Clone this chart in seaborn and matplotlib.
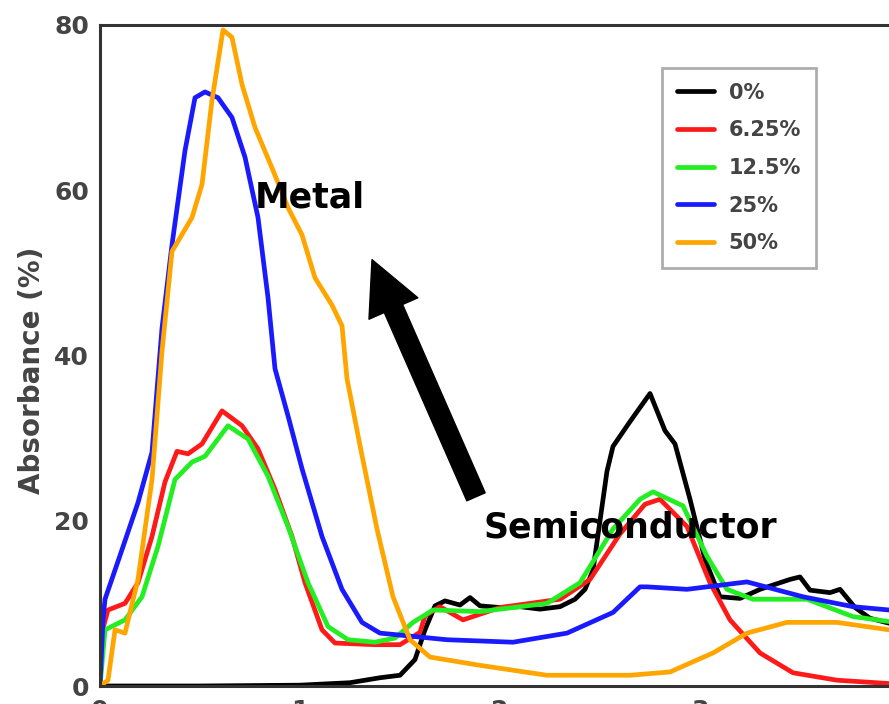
import numpy as np
import pandas as pd
import matplotlib
matplotlib.use("Agg")
import matplotlib.pyplot as plt
import seaborn as sns
from matplotlib.lines import Line2D

labels = ["0%", "6.25%", "12.5%", "25%", "50%"]
colors = ["#000000", "#ff1a1a", "#22ee22", "#1a1aff", "#ffa500"]

x_black = [0, 0.5, 1.0, 1.25, 1.4, 1.5, 1.575, 1.625, 1.675, 1.725, 1.8, 1.85, 1.9, 2.0, 2.1, 2.2, 2.3,
           2.375, 2.425, 2.465, 2.5, 2.535, 2.565, 2.65, 2.75, 2.825, 2.875, 2.95, 3.025, 3.1, 3.2,
           3.3, 3.45, 3.5, 3.55, 3.65, 3.7, 3.775, 3.85, 3.945]
y_black = [0, 0, 0.1, 0.4, 1.0, 1.3, 3.2, 6.8, 9.7, 10.3, 9.8, 10.7, 9.7, 9.5, 9.6, 9.3, 9.6,
           10.5, 11.7, 14, 20, 26, 29, 32, 35.4, 30.9, 29.3, 22.6, 15.3, 10.8, 10.6,
           11.7, 12.9, 13.2, 11.6, 11.3, 11.7, 9.5, 8.2, 7.6]

x_red = [0, 0.015, 0.04, 0.125, 0.19, 0.26, 0.325, 0.385, 0.44, 0.51, 0.61, 0.71, 0.79, 0.875,
         0.96, 1.025, 1.11, 1.175, 1.375, 1.5, 1.6, 1.625, 1.7, 1.815, 2.0, 2.3, 2.45, 2.6, 2.725,
         2.8, 2.935, 3.05, 3.15, 3.3, 3.465, 3.685, 3.945]
y_red = [0, 7, 9.2, 10, 12.5, 18.1, 24.7, 28.4, 28.1, 29.3, 33.3, 31.5, 28.7, 23.8,
         18.1, 12.5, 6.8, 5.2, 5.0, 5.0, 6.5, 8.5, 9.6, 8.0, 9.5, 10.5, 12.9, 18.4, 22,
         22.6, 19.3, 12.5, 8, 4, 1.6, 0.7, 0.3]

x_green = [0, 0.025, 0.125, 0.21, 0.29, 0.375, 0.46, 0.525, 0.64, 0.74, 0.84, 0.94, 1.04, 1.14,
           1.24, 1.375, 1.475, 1.565, 1.665, 1.9, 2.235, 2.4, 2.565, 2.7, 2.765, 2.915, 3.035,
           3.135, 3.265, 3.535, 3.765, 3.945]
y_green = [0, 6.8, 8, 10.8, 16.9, 25, 27.1, 27.8, 31.5, 29.9, 25.4, 19.3, 12.5, 7.2,
           5.6, 5.3, 5.8, 7.7, 9.2, 9, 10, 12.5, 19, 22.6, 23.5, 21.8, 15.7,
           11.7, 10.5, 10.5, 8.4, 7.8]

x_blue = [0, 0.015, 0.025, 0.11, 0.19, 0.26, 0.31, 0.36, 0.425, 0.475, 0.525, 0.59, 0.66, 0.725,
          0.79, 0.84, 0.875, 0.94, 1.01, 1.11, 1.21, 1.31, 1.4, 1.735, 2.065, 2.335, 2.565, 2.7,
          2.735, 2.935, 3.235, 3.515, 3.765, 3.945]
y_blue = [0, 8, 10.5, 16.5, 22.2, 28.3, 43.3, 53.4, 64.8, 71.2, 71.9, 71.2, 68.8, 64,
          56.7, 47, 38.4, 32.7, 26.3, 18.1, 11.7, 7.7, 6.4, 5.6, 5.3, 6.4, 8.9, 12,
          12, 11.7, 12.6, 10.8, 9.6, 9.2]

x_orange = [0, 0.04, 0.075, 0.125, 0.19, 0.26, 0.31, 0.36, 0.46, 0.51, 0.56, 0.615, 0.66, 0.71,
            0.775, 0.86, 0.94, 1.01, 1.075, 1.16, 1.21, 1.235, 1.3, 1.385, 1.465, 1.55, 1.65,
            1.9, 2.235, 2.65, 2.85, 3.065, 3.235, 3.435, 3.685, 3.945]
y_orange = [0, 0.7, 6.8, 6.4, 12.9, 25, 40.5, 52.6, 56.7, 60.7, 70.9, 79.4, 78.5, 72.8,
            67.6, 62.7, 57.9, 54.6, 49.4, 46.1, 43.6, 37.2, 29.1, 19, 10.8, 5.6, 3.5,
            2.5, 1.3, 1.3, 1.7, 4, 6.4, 7.7, 7.7, 6.8]

xs = [x_black, x_red, x_green, x_blue, x_orange]
ys = [y_black, y_red, y_green, y_blue, y_orange]

frames = []
for lab, xx, yy in zip(labels, xs, ys):
    frames.append(pd.DataFrame({"energy": xx, "absorbance": yy, "conc": lab}))
df = pd.concat(frames, ignore_index=True)

sns.set_style("white")
fig = plt.figure(figsize=(8.89, 7.04), dpi=100)
ax = fig.add_axes([100 / 889, 18 / 704, 789 / 889, 661 / 704])

sns.lineplot(data=df, x="energy", y="absorbance", hue="conc", hue_order=labels,
             palette=dict(zip(labels, colors)), sort=False, estimator=None,
             linewidth=3.4, ax=ax, legend=False)

ax.set_xlim(0, 3.945)
ax.set_ylim(0, 80)
ax.set_xticks([0, 1, 2, 3])
ax.set_xticks([0.5, 1.5, 2.5, 3.5], minor=True)
ax.set_yticks([0, 20, 40, 60, 80])
ax.set_yticks([10, 30, 50, 70], minor=True)
ax.tick_params(which="major", direction="in", length=12, width=1.6, color="#333333",
               labelsize=18, labelcolor="#444444", pad=8)
ax.tick_params(axis="x", which="major", pad=9)
ax.tick_params(which="minor", direction="in", length=6, width=1.6, color="#333333")
for lbl in ax.get_xticklabels() + ax.get_yticklabels():
    lbl.set_fontweight("bold")
for s in ["left", "bottom", "top"]:
    ax.spines[s].set_color("#333333")
    ax.spines[s].set_linewidth(2.2)
ax.spines["right"].set_visible(False)
ax.set_xlabel("")
ax.set_ylabel("Absorbance (%)", fontsize=20, fontweight="bold", color="#444444")
ax.yaxis.set_label_coords(-54 / 789, (686 - 370) / 661)

handles = [Line2D([], [], color=c, lw=3.4) for c in colors]
leg = ax.legend(handles, labels, loc="upper left", bbox_to_anchor=(562 / 789, (686 - 68) / 661),
                borderaxespad=0, frameon=True, fancybox=False, fontsize=15, handlelength=1.8,
                handletextpad=0.7, labelspacing=0.85, borderpad=0.7, edgecolor="#999999")
leg.get_frame().set_linewidth(2)
for t in leg.get_texts():
    t.set_fontweight("bold")
    t.set_color("#444444")

ax.text(0.775, 59.1, "Metal", fontsize=25, fontweight="bold", color="black", ha="left", va="center")
ax.text(1.915, 19.2, "Semiconductor", fontsize=25, fontweight="bold", color="black", ha="left", va="center")
ax.annotate("", xy=(1.36, 51.6), xytext=(1.88, 22.9),
            arrowprops=dict(arrowstyle="simple,head_length=1.2,head_width=1.2,tail_width=0.45",
                            color="black", mutation_scale=32, shrinkA=0, shrinkB=0))

fig.savefig("out.png", dpi=100)
